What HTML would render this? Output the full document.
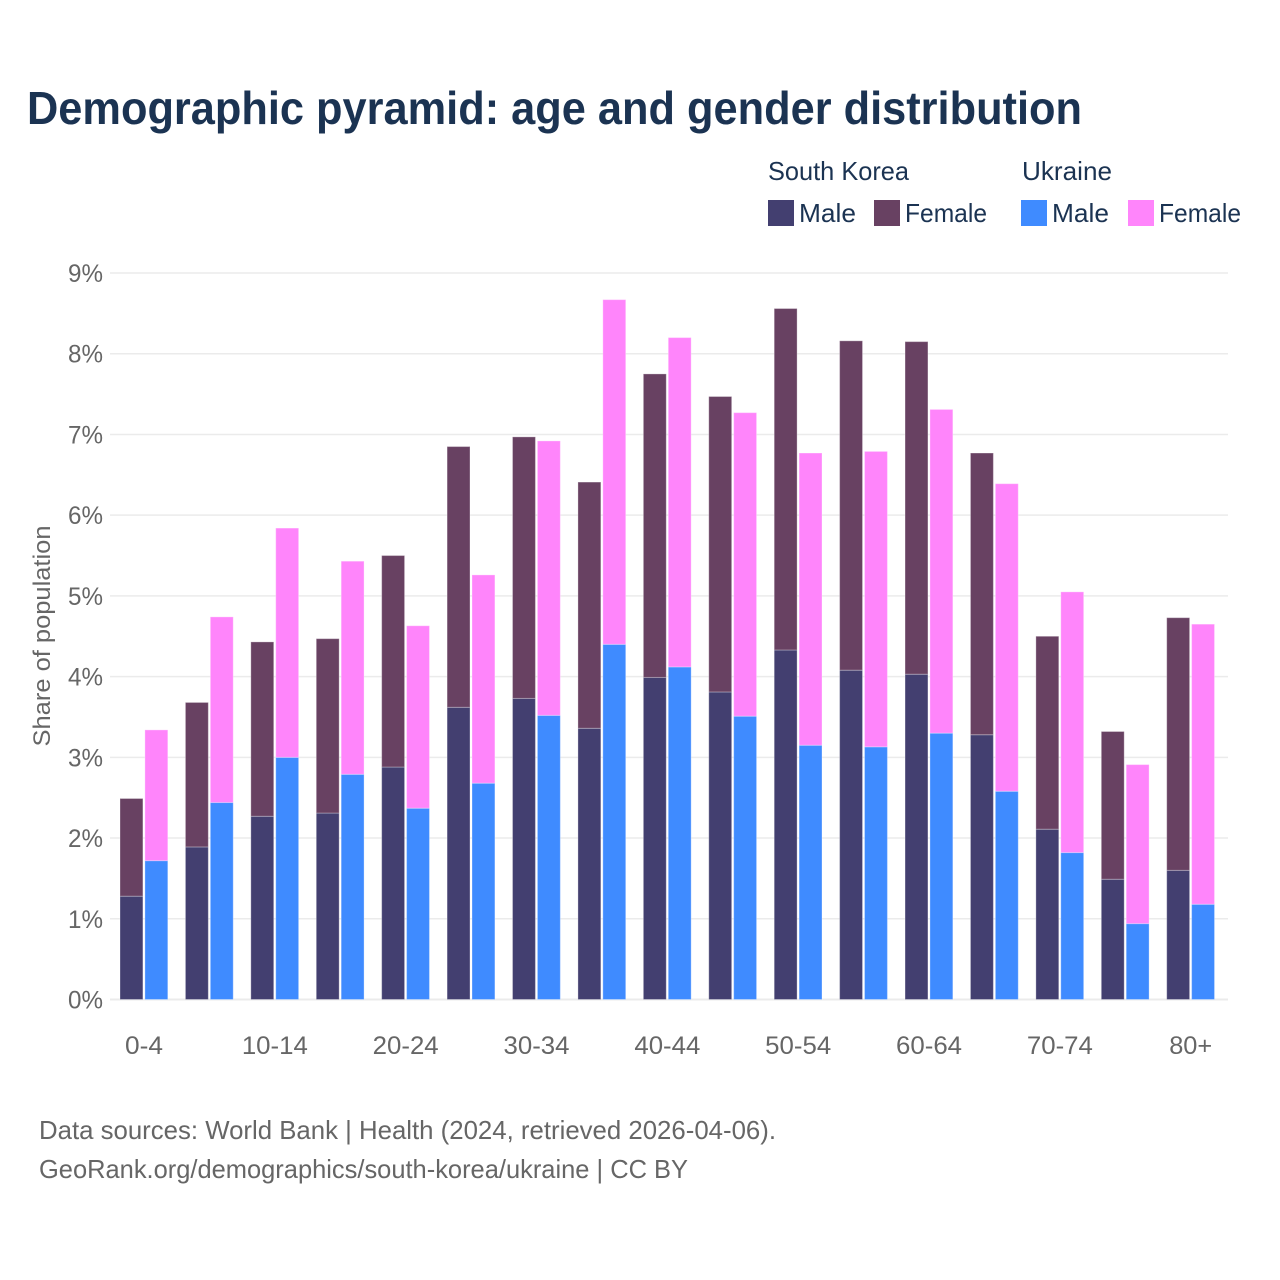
<!DOCTYPE html>
<html lang="en">
<head>
<meta charset="utf-8">
<title>Demographic pyramid</title>
<style>
html,body{margin:0;padding:0;background:#fff}
svg{display:block}
text{font-family:"Liberation Sans",sans-serif}
</style>
</head>
<body>
<svg id="chart" xmlns="http://www.w3.org/2000/svg" width="1280" height="1280" viewBox="0 0 1280 1280">
<rect width="1280" height="1280" fill="#fff"/>
<text x="27" y="124" font-size="46" font-weight="700" fill="#1b3352" textLength="1055" lengthAdjust="spacingAndGlyphs">Demographic pyramid: age and gender distribution</text>
<g id="grid"></g>
<g id="bars"></g>
<g id="yticks"></g>
<g id="xticks"></g>
<text transform="translate(50,636) rotate(-90)" text-anchor="middle" font-size="24" fill="#666" textLength="221" lengthAdjust="spacingAndGlyphs">Share of population</text>
<g font-size="26" fill="#1b3352">
<text x="768" y="180" textLength="141" lengthAdjust="spacingAndGlyphs">South Korea</text>
<text x="1022" y="180" textLength="90" lengthAdjust="spacingAndGlyphs">Ukraine</text>
<rect x="768" y="200" width="26" height="26" fill="#433f70"/>
<text x="799" y="222" textLength="57" lengthAdjust="spacingAndGlyphs">Male</text>
<rect x="874" y="200" width="26" height="26" fill="#684162"/>
<text x="905" y="222" textLength="82" lengthAdjust="spacingAndGlyphs">Female</text>
<rect x="1021" y="200" width="26" height="26" fill="#3f8bff"/>
<text x="1052" y="222" textLength="57" lengthAdjust="spacingAndGlyphs">Male</text>
<rect x="1128" y="200" width="26" height="26" fill="#ff85fb"/>
<text x="1159" y="222" textLength="82" lengthAdjust="spacingAndGlyphs">Female</text>
</g>
<text x="39" y="1139" font-size="26" fill="#666" textLength="737" lengthAdjust="spacingAndGlyphs">Data sources: World Bank | Health (2024, retrieved 2026-04-06).</text>
<text x="39" y="1178" font-size="26" fill="#666" textLength="649" lengthAdjust="spacingAndGlyphs">GeoRank.org/demographics/south-korea/ukraine | CC BY</text>
</svg>
<script>
const categories = ["0-4","5-9","10-14","15-19","20-24","25-29","30-34","35-39","40-44","45-49","50-54","55-59","60-64","65-69","70-74","75-79","80+"];
const skMale = [1.28,1.89,2.27,2.31,2.88,3.62,3.73,3.36,3.99,3.81,4.33,4.08,4.03,3.28,2.11,1.49,1.60];
const skFemale = [1.21,1.79,2.16,2.16,2.62,3.23,3.24,3.05,3.76,3.66,4.23,4.08,4.12,3.49,2.39,1.83,3.13];
const uaMale = [1.72,2.44,3.00,2.79,2.37,2.68,3.52,4.40,4.12,3.51,3.15,3.13,3.30,2.58,1.82,0.94,1.18];
const uaFemale = [1.62,2.30,2.84,2.64,2.26,2.58,3.40,4.27,4.08,3.76,3.62,3.66,4.01,3.81,3.23,1.97,3.47];
const yTicks = [0,1,2,3,4,5,6,7,8,9];
const xTickLabels = ["0-4","10-14","20-24","30-34","40-44","50-54","60-64","70-74","80+"];

const NS = "http://www.w3.org/2000/svg";
const plotLeft = 110, plotRight = 1228;
const y = v => 999.5 - v * 80.72;
const groupX = i => 120 + i * 65.42;
const barW = 22.9, barGap = 24.9;

function mk(tag, parent, attrs) {
  const el = document.createElementNS(NS, tag);
  for (const k in attrs) el.setAttribute(k, attrs[k]);
  parent.appendChild(el);
  return el;
}

const gridG = document.getElementById("grid");
const barsG = document.getElementById("bars");
const yG = document.getElementById("yticks");
const xG = document.getElementById("xticks");

yTicks.forEach(t => {
  const line = mk("line", gridG, {x1: plotLeft, x2: plotRight, y1: y(t), y2: y(t), stroke: "#ebebeb", "stroke-width": t === 0 ? 2 : 1.5});
  
  
  const lab = mk("text", yG, {x: 103, y: y(t) + 9, "text-anchor": "end", "font-size": 25, fill: "#666", textLength: 35, lengthAdjust: "spacingAndGlyphs"});
  lab.textContent = t + "%";
  
  
});

function bar(parent, x, v0, v1, fill, name) {
  const r = mk("rect", parent, {x: x, y: y(v1), width: barW, height: y(v0) - y(v1), fill: fill, stroke: "rgba(255,255,255,0.3)", "stroke-width": 1});
  
  
}

categories.forEach((c, i) => {
  const x0 = groupX(i);
  bar(barsG, x0, 0, skMale[i], "#433f70", "bar-south-korea-male-" + c);
  bar(barsG, x0, skMale[i], skMale[i] + skFemale[i], "#684162", "bar-south-korea-female-" + c);
  bar(barsG, x0 + barGap, 0, uaMale[i], "#3f8bff", "bar-ukraine-male-" + c);
  bar(barsG, x0 + barGap, uaMale[i], uaMale[i] + uaFemale[i], "#ff85fb", "bar-ukraine-female-" + c);
});

xTickLabels.forEach(c => {
  const i = categories.indexOf(c);
  const w = c.length >= 5 ? 66 : (c.length === 3 && c !== "0-4" ? 43 : 38);
  const lab = mk("text", xG, {x: groupX(i) + 24, y: 1054, "text-anchor": "middle", "font-size": 25, fill: "#666", textLength: w, lengthAdjust: "spacingAndGlyphs"});
  lab.textContent = c;
  
  
});
</script>
</body>
</html>
